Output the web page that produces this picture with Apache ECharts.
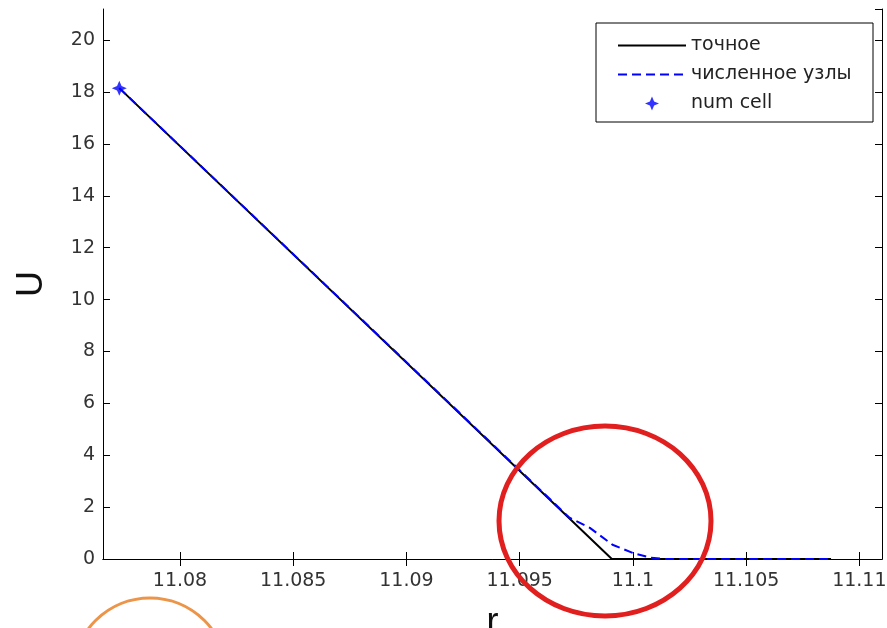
<!DOCTYPE html>
<html>
<head>
<meta charset="utf-8">
<title>U(r)</title>
<script src="https://cdn.jsdelivr.net/npm/echarts@6/dist/echarts.min.js"></script>
<style>
  html, body { margin: 0; padding: 0; background: #ffffff; }
  #chart { width: 887px; height: 628px; }
</style>
</head>
<body>
<div id="chart"></div>
<script>
// Exact solution: linear drop to zero, then zero
const rExact = [11.07732, 11.09907, 11.10875];
const uExact = [18.15, 0, 0];

// Numerical solution at the nodes: smears out near the front
const rNum = [11.07732, 11.0972, 11.0981, 11.0991, 11.1000, 11.1008, 11.1014, 11.10875];
const uNum = [18.15, 1.59, 1.20, 0.55, 0.23, 0.05, 0, 0];

// Numerical value in the cell
const rCell = [11.07732];
const uCell = [18.15];

// Axis ranges and tick positions
const xRange = [11.0766, 11.111];
const xTicks = [11.08, 11.085, 11.09, 11.095, 11.1, 11.105, 11.11];
const yRange = [0, 21.2];
const yStep = 2;

const seriesNames = ['точное', 'численное узлы', 'num cell'];

const pairs = (xs, ys) => xs.map((x, i) => [x, ys[i]]);

const FONT = "'DejaVu Sans', 'Liberation Sans', Arial, sans-serif";
const NAME_FONT = "'Liberation Sans', Arial, sans-serif";
const starPath = 'path://M0,-10 L3,-3 L10,0 L3,3 L0,10 L-3,3 L-10,0 L-3,-3 Z';

const baseAxisLine = { show: true, lineStyle: { color: '#000', width: 1 } };
const innerTick = (vals) => ({
  show: true, inside: true, length: 7,
  customValues: vals,
  lineStyle: { color: '#000', width: 1 }
});
const yTick = { show: true, inside: true, length: 7, lineStyle: { color: '#000', width: 1 } };

const chart = echarts.init(document.getElementById('chart'), null, { renderer: 'canvas' });

chart.setOption({
  backgroundColor: '#ffffff',
  animation: false,
  grid: {
    left: 103, right: 5, top: 9, bottom: 69,
    containLabel: false, outerBoundsMode: 'none'
  },
  xAxis: [
    {
      type: 'value', position: 'bottom',
      min: xRange[0], max: xRange[1],
      axisLine: baseAxisLine, axisTick: innerTick(xTicks),
      splitLine: { show: false },
      axisLabel: {
        color: '#333', fontSize: 19, fontFamily: FONT, margin: 13,
        customValues: xTicks
      },
      name: 'r', nameLocation: 'middle', nameGap: 46,
      nameTextStyle: { color: '#111', fontSize: 36, fontFamily: NAME_FONT }
    },
    {
      type: 'value', position: 'top',
      min: xRange[0], max: xRange[1],
      axisLine: baseAxisLine, axisTick: innerTick(xTicks),
      splitLine: { show: false }, axisLabel: { show: false, customValues: xTicks }
    }
  ],
  yAxis: [
    {
      type: 'value', position: 'left',
      min: yRange[0], max: yRange[1], interval: yStep,
      axisLine: baseAxisLine, axisTick: yTick,
      splitLine: { show: false },
      axisLabel: {
        color: '#333', fontSize: 19, fontFamily: FONT, margin: 8,
        showMaxLabel: false
      },
      name: 'U', nameLocation: 'middle', nameGap: 53, nameRotate: 90,
      nameTextStyle: { color: '#111', fontSize: 36, fontFamily: NAME_FONT }
    },
    {
      type: 'value', position: 'right',
      min: yRange[0], max: yRange[1], interval: yStep,
      axisLine: baseAxisLine, axisTick: yTick,
      splitLine: { show: false }, axisLabel: { show: false }
    }
  ],
  legend: {
    orient: 'vertical',
    left: 612, top: 31,
    itemWidth: 68, itemHeight: 14, itemGap: 10,
    selectedMode: false,
    textStyle: { color: '#222', fontSize: 19, fontFamily: FONT, padding: [0, 0, 0, 0] },
    data: [
      { name: seriesNames[0], itemStyle: { opacity: 0 } },
      { name: seriesNames[1], itemStyle: { opacity: 0 } },
      { name: seriesNames[2], icon: starPath, itemStyle: { color: '#0000ff' } }
    ],
    z: 10
  },
  series: [
    {
      name: seriesNames[0], type: 'line',
      data: pairs(rExact, uExact),
      symbol: 'none', z: 2,
      lineStyle: { color: '#000000', width: 2 },
      itemStyle: { color: '#000000' }
    },
    {
      name: seriesNames[1], type: 'line',
      data: pairs(rNum, uNum),
      symbol: 'none', z: 3,
      lineStyle: { color: '#0000ff', width: 2, type: [9, 5] },
      itemStyle: { color: '#0000ff' }
    },
    {
      name: seriesNames[2], type: 'scatter',
      data: pairs(rCell, uCell),
      symbol: starPath, symbolSize: 15, z: 4,
      itemStyle: { color: '#0000ff' }
    }
  ],
  graphic: [
    {
      type: 'rect', z: 5,
      shape: { x: 596, y: 23, width: 277, height: 99 },
      style: { fill: '#ffffff', stroke: '#000000', lineWidth: 1 }
    },
    {
      type: 'ellipse', z: 20,
      shape: { cx: 605, cy: 521, rx: 106, ry: 95 },
      style: { fill: null, stroke: '#e21f1f', lineWidth: 5 }
    },
    {
      type: 'circle', z: 20,
      shape: { cx: 150, cy: 675, r: 77 },
      style: { fill: null, stroke: '#ec9448', lineWidth: 3 }
    }
  ]
});
</script>
</body>
</html>
